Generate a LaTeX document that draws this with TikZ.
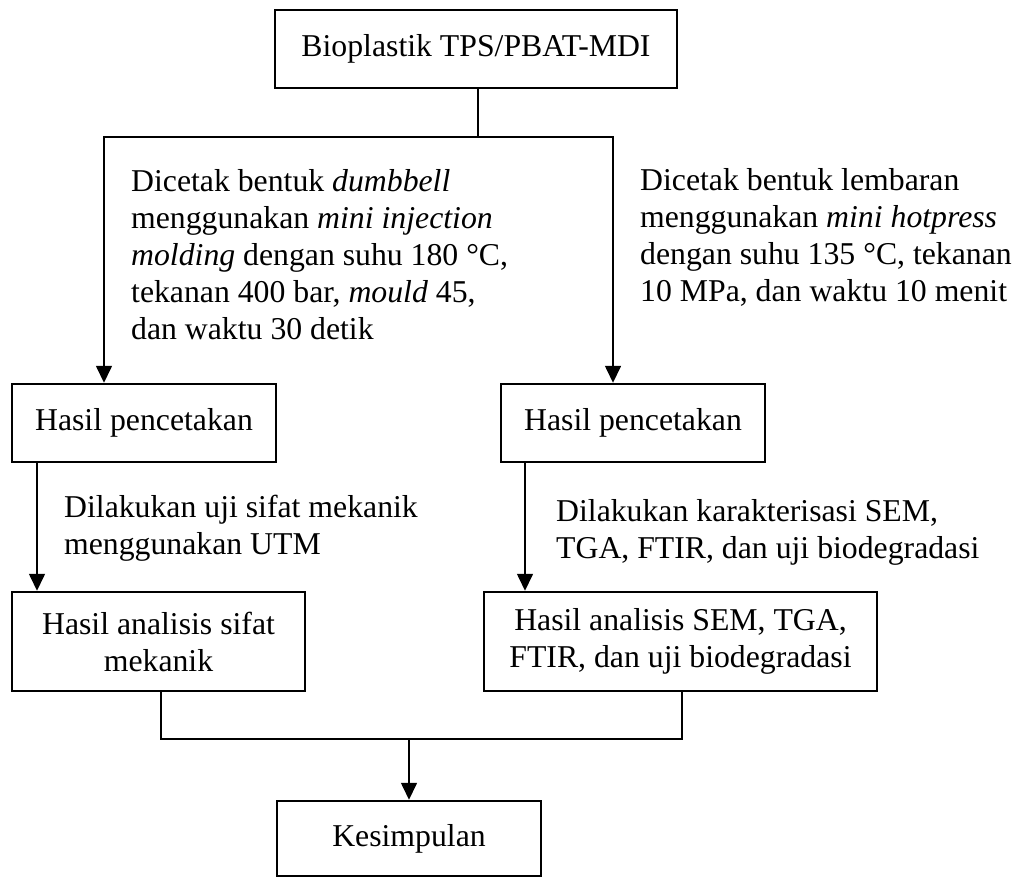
\documentclass[tikz,border=0pt]{standalone}
\usepackage{fontspec}
\setmainfont{Liberation Serif}
\usetikzlibrary{positioning,arrows.meta}
\tikzset{kotak/.style={rectangle,draw,line width=0.9pt,inner sep=0pt,align=center,font=\fontsize{12.2}{14.2}\selectfont},
         ket/.style={align=left,inner sep=0pt,anchor=west,font=\fontsize{12.2}{14.2}\selectfont}}

\begin{document}
\begin{tikzpicture}[x=0.0135cm,y=-0.0135cm,>={Triangle[length=6.5pt,width=6pt]},line width=0.9pt]
    \useasboundingbox (0,0) rectangle (1019,877);

    \node[kotak,minimum width=5.427cm,minimum height=1.053cm] (bio) at (476,49) {Bioplastik TPS/PBAT-MDI};
    \node[kotak,minimum width=3.564cm,minimum height=1.053cm] (cetakL) at (144,423) {Hasil pencetakan};
    \node[kotak,minimum width=3.564cm,minimum height=1.053cm] (cetakR) at (633,423) {Hasil pencetakan};
    \node[kotak,minimum width=3.956cm,minimum height=1.337cm] (analL) at (158.5,641.5) {Hasil analisis sifat\\mekanik};
    \node[kotak,minimum width=5.306cm,minimum height=1.337cm] (analR) at (680.5,641.5) {Hasil analisis SEM, TGA,\\FTIR, dan uji biodegradasi};
    \node[kotak,minimum width=3.564cm,minimum height=1.013cm] (simpul) at (409,838.5) {Kesimpulan};

    \node[ket] (ketA) at (130,255) {Dicetak bentuk \textit{dumbbell}\\menggunakan \textit{mini injection}\\\textit{molding} dengan suhu 180 °C,\\tekanan 400 bar, \textit{mould} 45,\\dan waktu 30 detik};
    \node[ket] (ketB) at (639,237) {Dicetak bentuk lembaran\\menggunakan \textit{mini hotpress}\\dengan suhu 135 °C, tekanan\\10 MPa, dan waktu 10 menit};
    \node[ket] (ketC) at (63,528) {Dilakukan uji sifat mekanik\\menggunakan UTM};
    \node[ket] (ketD) at (555,532) {Dilakukan karakterisasi SEM,\\TGA, FTIR, dan uji biodegradasi};

    \coordinate (cT) at (478,137);
    \coordinate (cL) at (104,137);
    \coordinate (cR) at (613,137);
    \coordinate (bL) at (161,739);
    \coordinate (bR) at (682,739);
    \coordinate (bM) at (409,739);

    \draw (bio.south -| cT) -- (cT);
    \draw [->] (cR) -- (cL) -- (cetakL.north -| cL);
    \draw [->] (cL) -- (cR) -- (cetakR.north -| cR);
    \draw [->] (cetakL.south -| 37,0) -- (analL.north -| 37,0);
    \draw [->] (cetakR.south -| 525,0) -- (analR.north -| 525,0);
    \draw (analL.south -| bL) -- (bL) -- (bR) -- (analR.south -| bR);
    \draw [->] (bM) -- (simpul);
\end{tikzpicture}
\end{document}
